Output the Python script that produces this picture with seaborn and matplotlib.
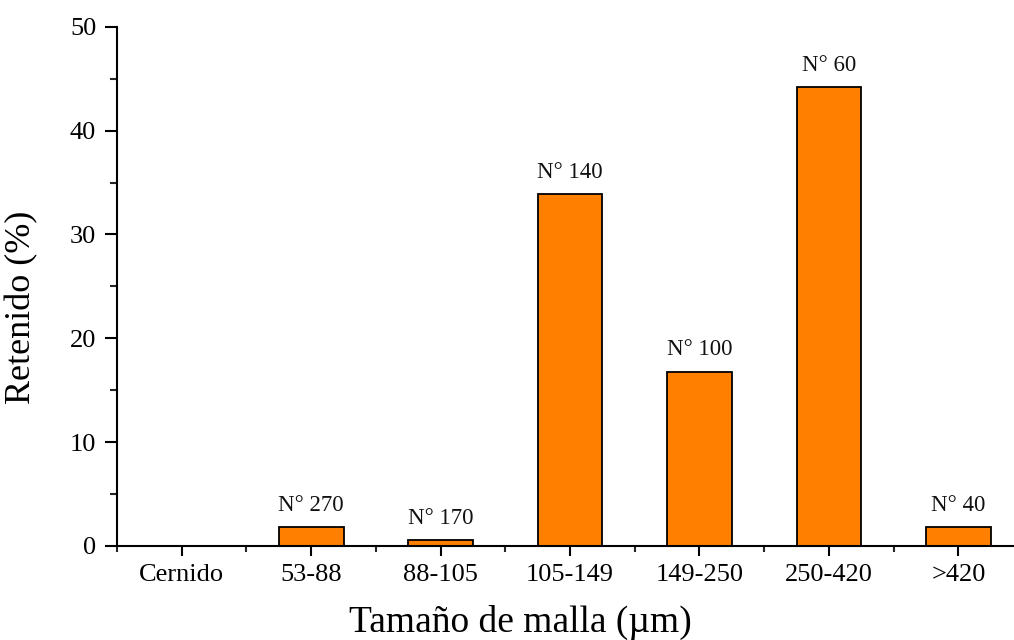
import matplotlib
matplotlib.use("Agg")
import matplotlib.pyplot as plt
from matplotlib.ticker import FixedLocator, MultipleLocator
import seaborn as sns
import pandas as pd

categories = ["Cernido", "53-88", "88-105", "105-149", "149-250", "250-420", ">420"]
retenido = [0.0, 1.8, 0.6, 33.9, 16.8, 44.2, 1.8]
mesh_labels = ["", "N° 270", "N° 170", "N° 140", "N° 100", "N° 60", "N° 40"]

sns.set_theme(style="ticks")
plt.rcParams["font.family"] = ["Liberation Serif", "DejaVu Serif"]

df = pd.DataFrame({"cat": categories, "val": retenido})

fig = plt.figure(figsize=(10.14, 6.4), dpi=100)
ax = fig.add_axes([0.1154, 0.147, 0.8846, 0.811])

sns.barplot(data=df, x="cat", y="val", order=categories, width=0.5,
            color="#FF8000", saturation=1, edgecolor="black", linewidth=1.3, ax=ax)

for i, (v, lab) in enumerate(zip(retenido, mesh_labels)):
    if lab:
        ax.annotate(lab, xy=(i, v), xytext=(0, 8), textcoords="offset points",
                    ha="center", va="bottom", fontsize=16.5, color="#111111")

ax.set_xlim(-0.5, 6.43)
ax.set_ylim(0, 50)
ax.yaxis.set_major_locator(MultipleLocator(10))
ax.yaxis.set_minor_locator(FixedLocator([5, 15, 25, 35, 45]))
ax.xaxis.set_minor_locator(FixedLocator([-0.5 + k for k in range(8)]))

for s in ["top", "right"]:
    ax.spines[s].set_visible(False)
for s in ["left", "bottom"]:
    ax.spines[s].set_linewidth(1.5)
    ax.spines[s].set_color("black")

ax.tick_params(axis="y", which="major", length=9, width=1.5, direction="out",
               labelsize=19, pad=6, colors="black")
ax.tick_params(axis="y", which="minor", length=5, width=1.5, direction="out")
ax.tick_params(axis="x", which="major", length=7, width=1.5, direction="out",
               labelsize=19, pad=6, colors="black")
ax.tick_params(axis="x", which="minor", length=4, width=1.5, direction="out")

ax.set_xlabel("Tamaño de malla (µm)", fontsize=27, color="black")
ax.set_ylabel("Retenido (%)", fontsize=26, color="black")
ax.xaxis.set_label_coords(0.45, -0.114)
ax.yaxis.set_label_coords(-0.088, 0.46)

fig.savefig("out.png", dpi=100)
